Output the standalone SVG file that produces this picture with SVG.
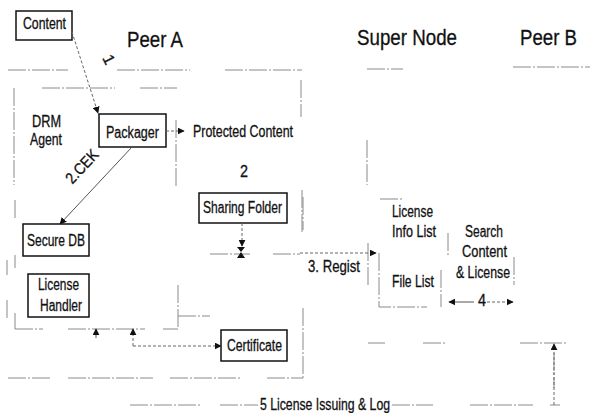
<svg xmlns="http://www.w3.org/2000/svg" width="590" height="413" viewBox="0 0 590 413">
<style>
.box{fill:#fff;stroke:#111;stroke-width:1.5}
.t{font-family:"Liberation Sans",Arial,sans-serif;font-size:16px;fill:#111;stroke:#111;stroke-width:0.3}
.big{font-family:"Liberation Sans",Arial,sans-serif;font-size:22px;fill:#111;stroke:#111;stroke-width:0.3}
.b{stroke:#8a8a8a;stroke-width:1;fill:none;stroke-dasharray:18 2 2 2}
.c{stroke:#555;stroke-width:1;fill:none}
.d{stroke:#666;stroke-width:1;fill:none;stroke-dasharray:3 2}
</style>
<defs>
<marker id="ah" viewBox="0 0 10 10" refX="9" refY="5" markerWidth="7" markerHeight="7" orient="auto" markerUnits="userSpaceOnUse"><path d="M0,0 L10,5 L0,10 z" fill="#111"/></marker>
</defs>
<rect width="590" height="413" fill="#fff"/>
<g id="boundaries">
<path class="b" d="M8,70H68M117,70H190M225,70H302M367,69H403M513,67H590"/>
<path class="b" d="M301,80V117M176,120V188M42,88H115M140,88H177M14,88V185M15,200V220M7,260V275M7,300V320M15,255V268M15,313V329"/>
<path class="b" d="M15,329H43M68,329H145M163,329H178M178,285V329M178,316H210"/>
<path class="b" d="M8,378H52M68,378H153M170,378H240M267,378H303M303,197V230M303,308V378"/>
<path class="b" d="M367,140V185M368,243V287M379,253V307H427M380,199H402M441,270V307M448,233V257M514,257V285"/>
<path class="b" d="M302,190V232M210,254H250M273,254H300M368,343H385M423,343H447M520,343H568M554,353V388"/>
<path class="b" d="M130,405H200M220,405H258M392,405H433M470,405H533M550,405H560"/>
</g>
<g id="labels">
<text class="big" x="127" y="47" textLength="56" lengthAdjust="spacingAndGlyphs">Peer A</text>
<text class="big" x="357" y="45" textLength="100" lengthAdjust="spacingAndGlyphs">Super Node</text>
<text class="big" x="520" y="45" textLength="57" lengthAdjust="spacingAndGlyphs">Peer B</text>
<text class="t" x="32" y="127" textLength="29" lengthAdjust="spacingAndGlyphs">DRM</text>
<text class="t" x="30" y="145" textLength="32" lengthAdjust="spacingAndGlyphs">Agent</text>
<text class="t" x="193" y="137" textLength="100" lengthAdjust="spacingAndGlyphs">Protected Content</text>
<text class="t" x="240" y="177" textLength="8" lengthAdjust="spacingAndGlyphs">2</text>
<text class="t" transform="translate(86,170) rotate(-47)" text-anchor="middle" textLength="40" lengthAdjust="spacingAndGlyphs">2.CEK</text>
<text class="t" transform="translate(104,62) rotate(63)" text-anchor="middle" font-size="12">1</text>
<text class="t" x="308" y="272" textLength="52" lengthAdjust="spacingAndGlyphs">3. Regist</text>
<text class="t" x="392" y="217" textLength="41" lengthAdjust="spacingAndGlyphs">License</text>
<text class="t" x="392" y="237" textLength="44" lengthAdjust="spacingAndGlyphs">Info List</text>
<text class="t" x="392" y="287" textLength="42" lengthAdjust="spacingAndGlyphs">File List</text>
<text class="t" x="465" y="237" textLength="38" lengthAdjust="spacingAndGlyphs">Search</text>
<text class="t" x="462" y="257" textLength="45" lengthAdjust="spacingAndGlyphs">Content</text>
<text class="t" x="456" y="278" textLength="54" lengthAdjust="spacingAndGlyphs">&amp; License</text>
<text class="t" x="478" y="306" textLength="8" lengthAdjust="spacingAndGlyphs">4</text>
<text class="t" x="260" y="410" textLength="130" lengthAdjust="spacingAndGlyphs">5 License Issuing &amp; Log</text>
</g>
<g id="content"><rect class="box" x="16" y="11" width="56" height="29"/><text class="t" x="23" y="29" textLength="43" lengthAdjust="spacingAndGlyphs">Content</text></g>
<g id="packager"><rect class="box" x="99" y="114" width="67" height="33"/><text class="t" x="106" y="138" textLength="53" lengthAdjust="spacingAndGlyphs">Packager</text></g>
<g id="sharing-folder"><rect class="box" x="199" y="193" width="88" height="30"/><text class="t" x="203" y="213" textLength="79" lengthAdjust="spacingAndGlyphs">Sharing Folder</text></g>
<g id="secure-db"><rect class="box" x="23" y="224" width="66" height="32"/><text class="t" x="27" y="246" textLength="58" lengthAdjust="spacingAndGlyphs">Secure DB</text></g>
<g id="license-handler"><rect class="box" x="28" y="274" width="61" height="43"/><text class="t" x="38" y="290" textLength="41" lengthAdjust="spacingAndGlyphs">License</text><text class="t" x="40" y="311" textLength="42" lengthAdjust="spacingAndGlyphs">Handler</text></g>
<g id="certificate"><rect class="box" x="221" y="330" width="66" height="31"/><text class="t" x="227" y="351" textLength="55" lengthAdjust="spacingAndGlyphs">Certificate</text></g>
<g id="connectors">
<path class="d" d="M72,32L98,113" marker-end="url(#ah)"/>
<path class="d" d="M166,131H184" marker-end="url(#ah)"/>
<path class="c" d="M132,147L60,224" marker-end="url(#ah)"/>
<path class="d" d="M242,223V246" marker-end="url(#ah)"/>
<path d="M237,247L245,247L241,252z M237,258L245,258L241,252z" fill="#111"/>
<path class="d" d="M300,253H376" marker-end="url(#ah)"/>
<path class="c" d="M96,338V329" marker-end="url(#ah)"/>
<path class="d" d="M133,346V329" marker-end="url(#ah)"/>
<path class="d" d="M133,346H221" marker-end="url(#ah)"/>
<path class="c" d="M474,302H449" marker-end="url(#ah)"/>
<path class="d" d="M487,302H513" marker-end="url(#ah)"/>
<path class="d" d="M554,405V344" marker-end="url(#ah)"/>
</g>
</svg>
